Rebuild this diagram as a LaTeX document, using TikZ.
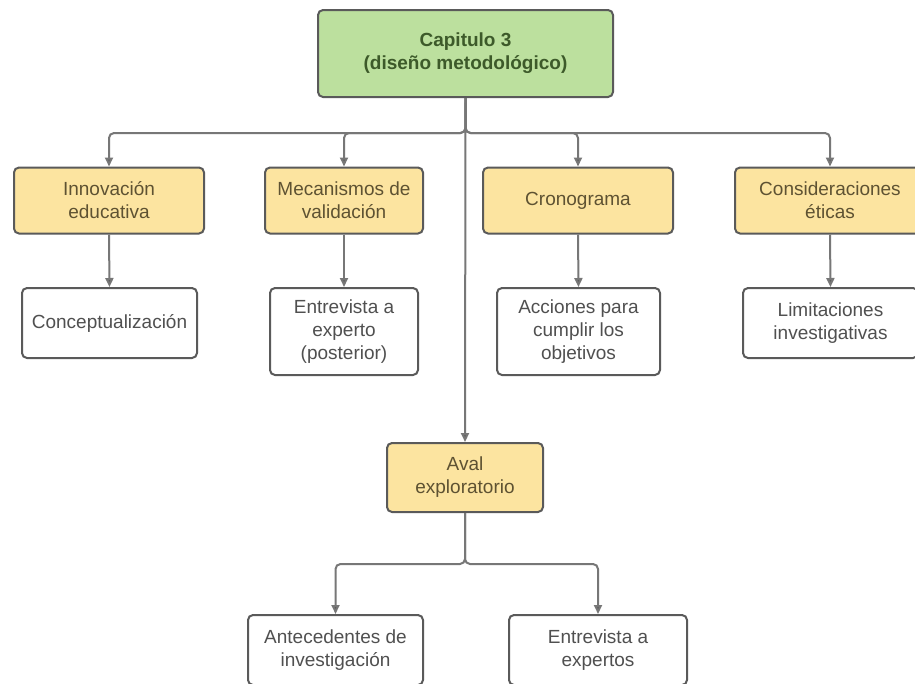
\documentclass[tikz,border=0pt]{standalone}
\usepackage{fontspec}
\setmainfont{Liberation Sans}
\usetikzlibrary{arrows.meta}
\definecolor{boxline}{HTML}{5A5A5A}
\definecolor{greenfill}{HTML}{BCE09E}
\definecolor{yellowfill}{HTML}{FCE4A0}
\definecolor{greentext}{HTML}{3D5A2A}
\definecolor{yellowtext}{HTML}{5E5232}
\definecolor{graytext}{HTML}{505050}
\definecolor{wire}{HTML}{777777}
\tikzset{
  base/.style={draw=boxline, line width=2pt, rounded corners=5pt, align=center,
    inner sep=0pt, font=\fontsize{19}{23}\selectfont},
  mainbox/.style={base, fill=greenfill, text=greentext, font=\fontsize{19}{23}\selectfont\bfseries},
  topicbox/.style={base, fill=yellowfill, text=yellowtext},
  leafbox/.style={base, fill=white, text=graytext},
  arr/.style={draw=wire, line width=2pt, rounded corners=5pt,
    -{Triangle[length=9pt,width=8pt,fill=boxline]}},
}
\begin{document}
\begin{tikzpicture}[x=1pt,y=-1pt]
  \useasboundingbox (0,0) rectangle (915,683);
  \clip (0,0) rectangle (915,683);
  \fill[white] (0,0) rectangle (915,683);

  % chapter node
  \node[mainbox, minimum width=295pt, minimum height=87pt] (cap) at (465.5,53.5)
    {Capitulo 3\\(diseño metodológico)};

  % first level topics
  \node[topicbox, minimum width=190pt, minimum height=66pt] (inn) at (109,200.5) {Innovación\\educativa};
  \node[topicbox, minimum width=158pt, minimum height=66pt] (mec) at (344,200.5) {Mecanismos de\\validación};
  \node[topicbox, minimum width=190pt, minimum height=66pt] (cro) at (578,200.5) {Cronograma};
  \node[topicbox, minimum width=190pt, minimum height=66pt] (eti) at (830,200.5) {Consideraciones\\éticas};

  % leaves of the first level
  \node[leafbox, minimum width=175pt, minimum height=70pt] (con) at (109.5,323) {Conceptualización};
  \node[leafbox, minimum width=148pt, minimum height=87pt] (ent) at (344,331.5) {Entrevista a\\experto\\(posterior)};
  \node[leafbox, minimum width=163pt, minimum height=87pt] (acc) at (578.5,331.5) {Acciones para\\cumplir los\\objetivos};
  \node[leafbox, minimum width=175pt, minimum height=70pt] (lim) at (830.5,323) {Limitaciones\\investigativas};

  % exploratory endorsement branch
  \node[topicbox, minimum width=156pt, minimum height=69pt] (aval) at (465,477.5) {Aval\\exploratorio};
  \node[leafbox, minimum width=175pt, minimum height=70pt] (ant) at (335.5,650) {Antecedentes de\\investigación};
  \node[leafbox, minimum width=178pt, minimum height=70pt] (exp) at (598,650) {Entrevista a\\expertos};

  % connectors from the chapter
  \draw[arr] (cap.south) -- ++(0,35) -| (inn.north);
  \draw[arr] (cap.south) -- ++(0,35) -| (mec.north);
  \draw[arr] (cap.south) -- ++(0,35) -| (cro.north);
  \draw[arr] (cap.south) -- ++(0,35) -| (eti.north);
  \draw[arr] (cap.south) -- (aval.north);

  % topic to leaf connectors
  \draw[arr] (inn.south) -- (con.north);
  \draw[arr] (mec.south) -- (ent.north);
  \draw[arr] (cro.south) -- (acc.north);
  \draw[arr] (eti.south) -- (lim.north);

  % endorsement split
  \draw[arr] (aval.south) -- ++(0,51) -| (ant.north);
  \draw[arr] (aval.south) -- ++(0,51) -| (exp.north);
\end{tikzpicture}
\end{document}
